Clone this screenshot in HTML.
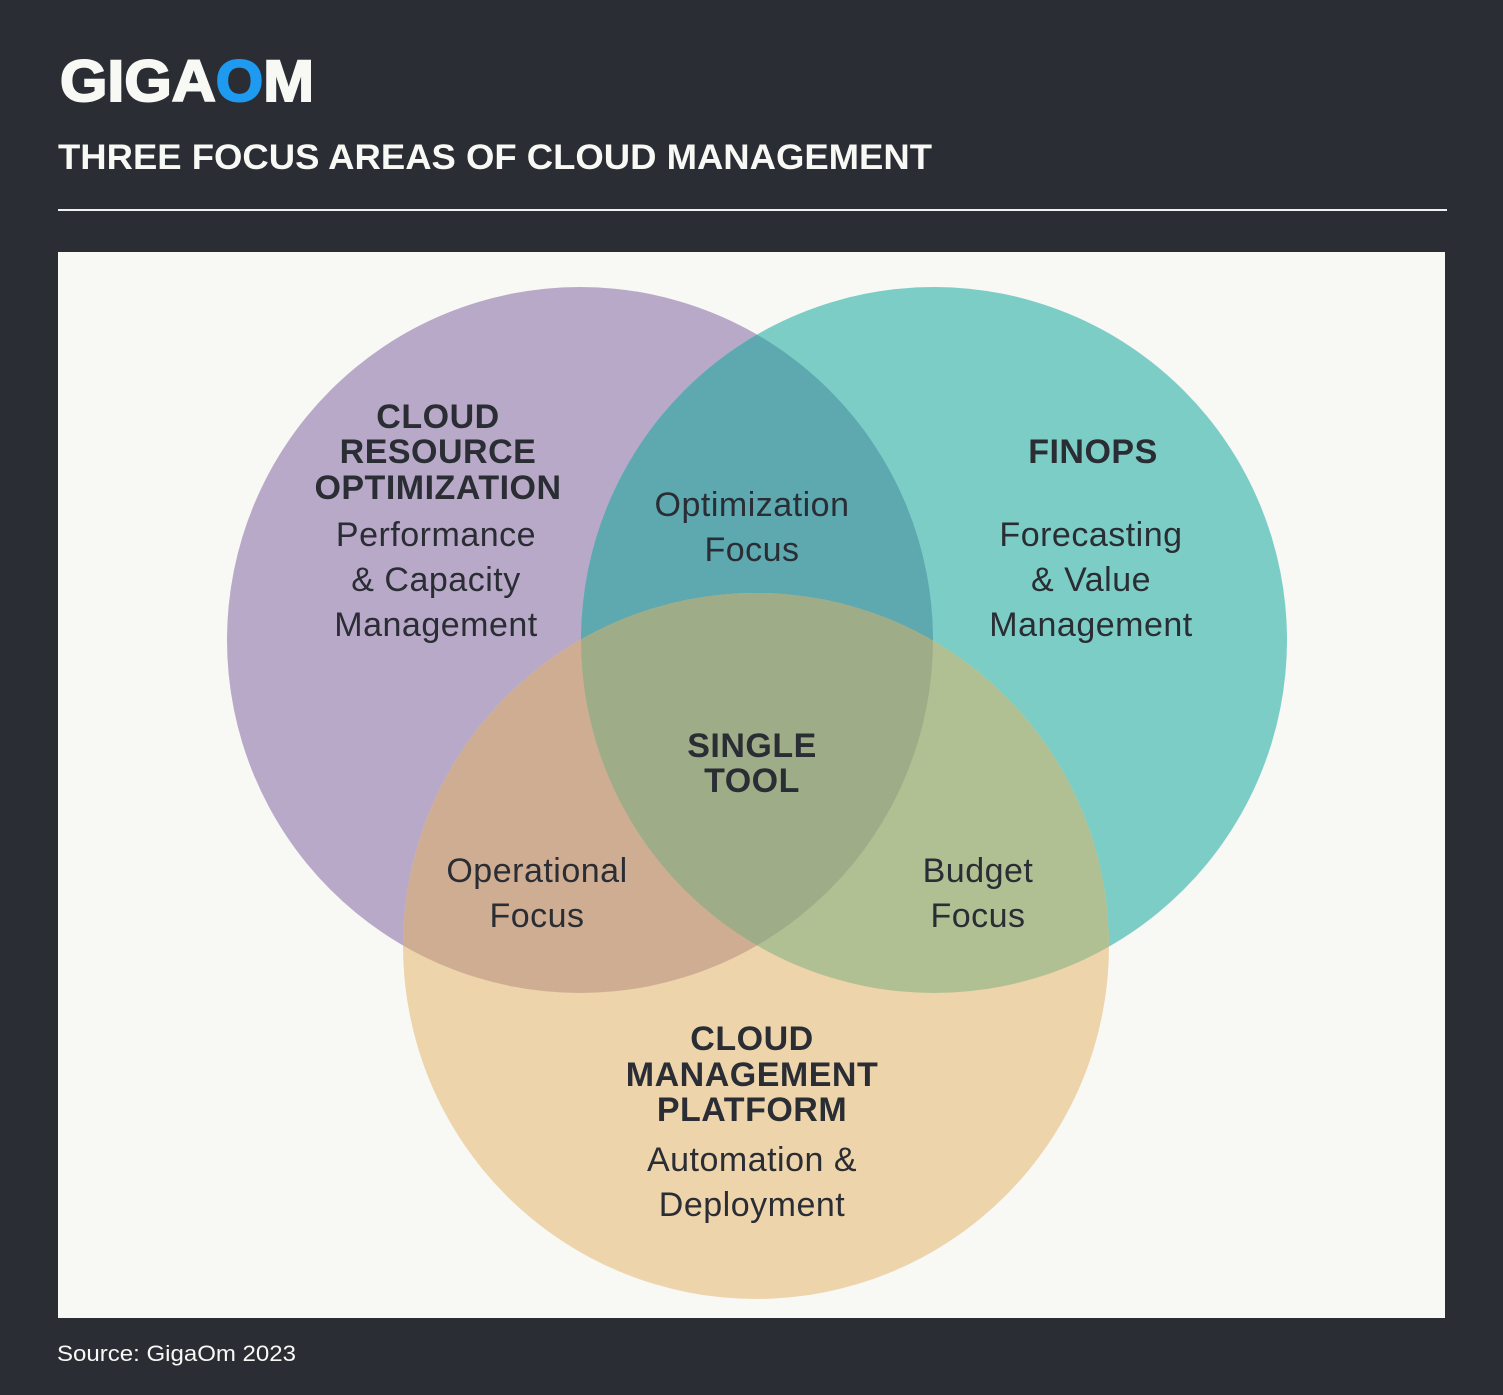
<!DOCTYPE html>
<html><head><meta charset="utf-8"><style>
body{margin:0;width:1503px;height:1395px;background:#2a2d33;overflow:hidden;font-family:"Liberation Sans",sans-serif}
</style></head><body>
<svg width="1503" height="1395" xmlns="http://www.w3.org/2000/svg" style="position:absolute;left:0;top:0">
<defs>
<clipPath id="cp"><circle cx="580" cy="640" r="353"/></clipPath>
<clipPath id="ct"><circle cx="934" cy="640" r="353"/></clipPath>
<clipPath id="co"><circle cx="756" cy="946" r="353"/></clipPath>
</defs>
<text x="60" y="101" font-size="58" font-weight="bold" fill="#f8f8f5" stroke="#f8f8f5" stroke-width="2" textLength="254" lengthAdjust="spacingAndGlyphs">GIGA<tspan fill="#1e9bf0" stroke="#1e9bf0">O</tspan>M</text>
<text x="58" y="169" font-size="35" font-weight="bold" fill="#f8f8f5" textLength="874" lengthAdjust="spacingAndGlyphs">THREE FOCUS AREAS OF CLOUD MANAGEMENT</text>
<rect x="58" y="209" width="1389" height="2" fill="#f0f0f0"/>
<rect x="58" y="252" width="1387" height="1066" fill="#f8f8f5"/>
<circle cx="580" cy="640" r="353" fill="#b9a9c9"/>
<circle cx="934" cy="640" r="353" fill="#7ccdc6"/>
<circle cx="756" cy="946" r="353" fill="#eed4ab"/>
<g clip-path="url(#cp)"><circle cx="934" cy="640" r="353" fill="#5ea8b0"/><circle cx="756" cy="946" r="353" fill="#cfad92"/></g>
<g clip-path="url(#ct)"><circle cx="756" cy="946" r="353" fill="#b0c093"/></g>
<g clip-path="url(#cp)"><g clip-path="url(#ct)"><circle cx="756" cy="946" r="353" fill="#9fac88"/></g></g>
<g font-size="34" fill="#2a2d33" text-anchor="middle">
<g font-weight="bold" letter-spacing="0.5"><text x="438" y="428">CLOUD</text><text x="438" y="463">RESOURCE</text><text x="438" y="499">OPTIMIZATION</text>
<text x="1093" y="463">FINOPS</text>
<text x="752" y="757">SINGLE</text><text x="752" y="792">TOOL</text>
<text x="752" y="1050">CLOUD</text><text x="752" y="1086">MANAGEMENT</text><text x="752" y="1121">PLATFORM</text></g>
<g font-size="34" letter-spacing="0.5"><text x="436" y="546">Performance</text><text x="436" y="591">&amp; Capacity</text><text x="436" y="636">Management</text>
<text x="752" y="516">Optimization</text><text x="752" y="561">Focus</text>
<text x="1091" y="546">Forecasting</text><text x="1091" y="591">&amp; Value</text><text x="1091" y="636">Management</text>
<text x="537" y="882">Operational</text><text x="537" y="927">Focus</text>
<text x="978" y="882">Budget</text><text x="978" y="927">Focus</text>
<text x="752" y="1171">Automation &amp;</text><text x="752" y="1216">Deployment</text></g>
</g>
<text x="57" y="1361" font-size="22" fill="#f8f8f5" textLength="239" lengthAdjust="spacingAndGlyphs">Source: GigaOm 2023</text>
</svg>
</body></html>
